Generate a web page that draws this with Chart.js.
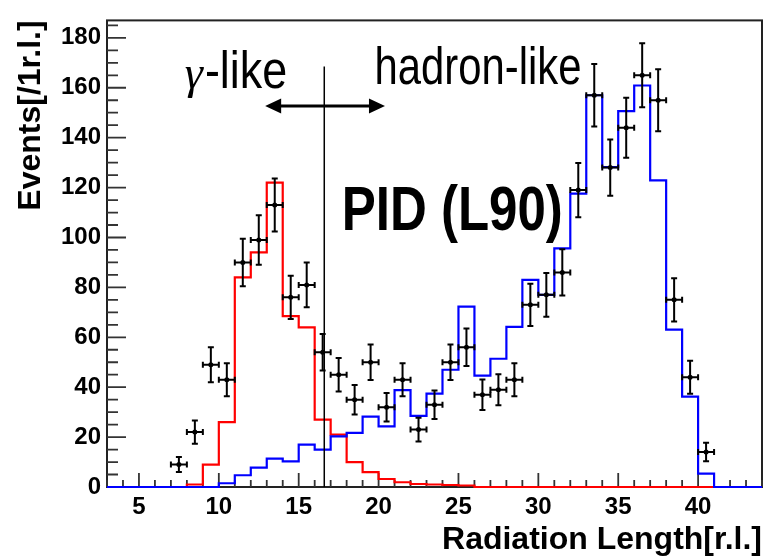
<!DOCTYPE html>
<html>
<head>
<meta charset="utf-8">
<script src="https://cdn.jsdelivr.net/npm/chart.js@4.4.0/dist/chart.umd.min.js"></script>
<style>
  html, body { margin: 0; padding: 0; background: #fff; }
  canvas { display: block; }
</style>
</head>
<body>
<canvas id="pid-chart" width="766" height="556"></canvas>
<script>
// bin edges of the histograms (1 r.l. bins)
const binEdges = [3, 4, 5, 6, 7, 8, 9, 10, 11, 12, 13, 14, 15, 16, 17, 18, 19, 20, 21, 22, 23,
                  24, 25, 26, 27, 28, 29, 30, 31, 32, 33, 34, 35, 36, 37, 38, 39, 40, 41, 42, 43, 44];

// gamma MC (red), one value per bin
const gammaMC = [0, 0, 0, 0, 0, 1, 9, 26, 84, 94, 122, 68.5, 64, 27, 21, 10, 6, 3.2, 1.9, 1.2, 1,
                 0.8, 0.6, 0, 0, 0, 0, 0, 0, 0, 0, 0, 0, 0, 0, 0, 0, 0, 0, 0, 0];

// hadron MC (blue), one value per bin
const hadronMC = [0, 0, 0, 0, 0, 0, 0, 1.5, 4.7, 7.8, 11.4, 10.3, 17, 15, 20.3, 21.7, 28.2, 24.3, 38.8, 28.5,
                  37.4, 47, 72.3, 44.6, 51.4, 64.2, 83, 77, 95.6, 117.6, 157, 128.2, 150.6, 160.9, 122.9,
                  63.1, 36.2, 5.4, 0, 0, 0];

// observed events (bin centres), with errors
const dataX = [7.5, 8.5, 9.5, 10.5, 11.5, 12.5, 13.5, 14.5, 15.5, 16.5, 17.5, 18.5, 19.5, 20.5, 21.5, 22.5, 23.5,
               24.5, 25.5, 26.5, 27.5, 28.5, 29.5, 30.5, 31.5, 32.5, 33.5, 34.5, 35.5, 36.5, 37.5, 38.5, 39.5, 40.5];
const dataY = [9, 22, 49, 43, 90, 99, 113, 76, 81, 54, 45, 35, 50, 32, 43, 23, 33,
               50, 56, 37, 39, 43, 73, 77, 86, 119, 157, 128, 144, 165, 155, 75, 44, 14];
const dataErr = [3, 4.7, 7, 6.6, 9.5, 9.9, 10.6, 8.7, 9, 7.3, 6.7, 5.9, 7.1, 5.7, 6.6, 4.8, 5.7,
                 7.1, 7.5, 6.1, 6.2, 6.6, 8.5, 8.8, 9.3, 10.9, 12.5, 11.3, 12, 12.8, 12.4, 8.7, 6.6, 3.7];

// axis tick labels
const xTickValues = [5, 10, 15, 20, 25, 30, 35, 40];
const yTickValues = [0, 20, 40, 60, 80, 100, 120, 140, 160, 180];

const PID_CUT = 16.6;
const FONT = "'Liberation Sans', Arial, sans-serif";

function stepData(values) {
    const pts = values.map((v, i) => ({ x: binEdges[i], y: v }));
    pts.push({ x: binEdges[values.length], y: values[values.length - 1] });
    return pts;
}

// narrow text, like the ROOT TLatex in the picture
function narrowText(ctx, text, x, y, font, sx) {
    ctx.save();
    ctx.translate(x, y);
    ctx.scale(sx, 1);
    ctx.font = font;
    ctx.fillStyle = '#000';
    ctx.textBaseline = 'alphabetic';
    ctx.fillText(text, 0, 0);
    ctx.restore();
}

const rootFramePlugin = {
    id: 'rootFrame',
    beforeDatasetsDraw(chart) {
        const ctx = chart.ctx;
        const xs = chart.scales.x, ys = chart.scales.y;
        const area = chart.chartArea;
        ctx.save();
        // frame
        ctx.strokeStyle = '#222';
        ctx.lineWidth = 2;
        ctx.strokeRect(area.left, area.top, area.right - area.left, area.bottom - area.top);

        // tick marks, drawn inside the frame
        ctx.lineWidth = 1.8;
        ctx.strokeStyle = '#333';
        ctx.beginPath();
        for (let v = 0; v <= 185; v += 5) {
            const py = ys.getPixelForValue(v);
            ctx.moveTo(area.left, py);
            ctx.lineTo(area.left + (v % 20 === 0 ? 19 : 11), py);
        }
        for (let v = 3; v <= 44; v += 1) {
            const px = xs.getPixelForValue(v);
            ctx.moveTo(px, area.bottom);
            ctx.lineTo(px, area.bottom - (v % 5 === 0 ? 14 : 7));
        }
        ctx.stroke();
        ctx.restore();
    },
    afterDatasetsDraw(chart) {
        const ctx = chart.ctx;
        const xs = chart.scales.x, ys = chart.scales.y;
        const area = chart.chartArea;

        // error bars
        ctx.save();
        ctx.strokeStyle = '#000';
        ctx.lineWidth = 2;
        dataX.forEach((xv, i) => {
            const px = xs.getPixelForValue(xv);
            const py = ys.getPixelForValue(dataY[i]);
            const top = ys.getPixelForValue(dataY[i] + dataErr[i]);
            const bot = ys.getPixelForValue(dataY[i] - dataErr[i]);
            const l = xs.getPixelForValue(xv - 0.5), r = xs.getPixelForValue(xv + 0.5);
            ctx.beginPath();
            ctx.moveTo(px, top); ctx.lineTo(px, bot);
            ctx.moveTo(l, py); ctx.lineTo(r, py);
            ctx.moveTo(px - 3, top); ctx.lineTo(px + 3, top);
            ctx.moveTo(px - 3, bot); ctx.lineTo(px + 3, bot);
            ctx.moveTo(l, py - 3); ctx.lineTo(l, py + 3);
            ctx.moveTo(r, py - 3); ctx.lineTo(r, py + 3);
            ctx.stroke();
        });

        // cut line
        ctx.lineWidth = 1.5;
        ctx.beginPath();
        const cx = xs.getPixelForValue(PID_CUT);
        ctx.moveTo(cx, ys.getPixelForValue(168.5));
        ctx.lineTo(cx, area.bottom);
        ctx.stroke();

        // double arrow
        const ay = ys.getPixelForValue(152.7);
        const a1 = xs.getPixelForValue(12.9), a2 = xs.getPixelForValue(20.4);
        ctx.lineWidth = 3;
        ctx.beginPath();
        ctx.moveTo(a1 + 10, ay); ctx.lineTo(a2 - 10, ay);
        ctx.stroke();
        ctx.fillStyle = '#000';
        ctx.beginPath();
        ctx.moveTo(a1, ay); ctx.lineTo(a1 + 16, ay - 7.5); ctx.lineTo(a1 + 16, ay + 7.5); ctx.closePath();
        ctx.moveTo(a2, ay); ctx.lineTo(a2 - 16, ay - 7.5); ctx.lineTo(a2 - 16, ay + 7.5); ctx.closePath();
        ctx.fill();

        // labels
        const gx = xs.getPixelForValue(7.87), gy = ys.getPixelForValue(160);
        ctx.font = "italic 46px 'Liberation Serif', serif";
        ctx.fillText('\u03b3', gx, gy);
        const gw = ctx.measureText('\u03b3').width;
        narrowText(ctx, '-like', gx + gw + 2, gy, '51px ' + FONT, 0.88);
        narrowText(ctx, 'hadron-like', xs.getPixelForValue(19.75), ys.getPixelForValue(161.4), '51px ' + FONT, 0.82);
        narrowText(ctx, 'PID (L90)', xs.getPixelForValue(17.69), ys.getPixelForValue(102.8), 'bold 63px ' + FONT, 0.81);
        ctx.restore();
    }
};

const histStyle = { stepped: 'before', borderWidth: 2.2, pointRadius: 0, fill: false, clip: 4 };

new Chart(document.getElementById('pid-chart').getContext('2d'), {
    type: 'line',
    data: {
        datasets: [
            {
                type: 'scatter',
                data: dataX.map((x, i) => ({ x: x, y: dataY[i] })),
                pointRadius: 2.5,
                pointBackgroundColor: '#000',
                pointBorderColor: '#000',
                pointBorderWidth: 0
            },
            Object.assign({ data: stepData(hadronMC), borderColor: '#0000ff' }, histStyle),
            Object.assign({ data: stepData(gammaMC), borderColor: '#ff0000' }, histStyle)
        ]
    },
    options: {
        responsive: false,
        animation: false,
        devicePixelRatio: 1,
        layout: { padding: { left: 0, top: 15, right: 3, bottom: 0 } },
        plugins: { legend: { display: false }, tooltip: { enabled: false } },
        scales: {
            x: {
                type: 'linear',
                min: 3,
                max: 44,
                afterFit: s => { s.height = 69; },
                afterBuildTicks: s => { s.ticks = xTickValues.map(v => ({ value: v })); },
                grid: { display: false, drawTicks: false },
                border: { display: false },
                ticks: {
                    font: { family: FONT, size: 24, weight: 'bold' },
                    color: '#000',
                    padding: 6,
                    maxRotation: 0,
                    autoSkip: false
                },
                title: {
                    display: true,
                    text: 'Radiation Length[r.l.]',
                    align: 'end',
                    color: '#000',
                    padding: 0,
                    font: { family: FONT, size: 32, weight: 'bold', lineHeight: 1 }
                }
            },
            y: {
                min: 0,
                max: 187,
                afterFit: s => { s.width = 107; },
                afterBuildTicks: s => { s.ticks = yTickValues.map(v => ({ value: v })); },
                grid: { display: false, drawTicks: false },
                border: { display: false },
                ticks: {
                    font: { family: FONT, size: 24, weight: 'bold' },
                    color: '#000',
                    padding: 6
                },
                title: {
                    display: true,
                    text: 'Events[/1r.l.]',
                    align: 'end',
                    color: '#000',
                    padding: { top: 15, bottom: 0 },
                    font: { family: FONT, size: 32, weight: 'bold', lineHeight: 1 }
                }
            }
        }
    },
    plugins: [rootFramePlugin]
});
</script>
</body>
</html>
